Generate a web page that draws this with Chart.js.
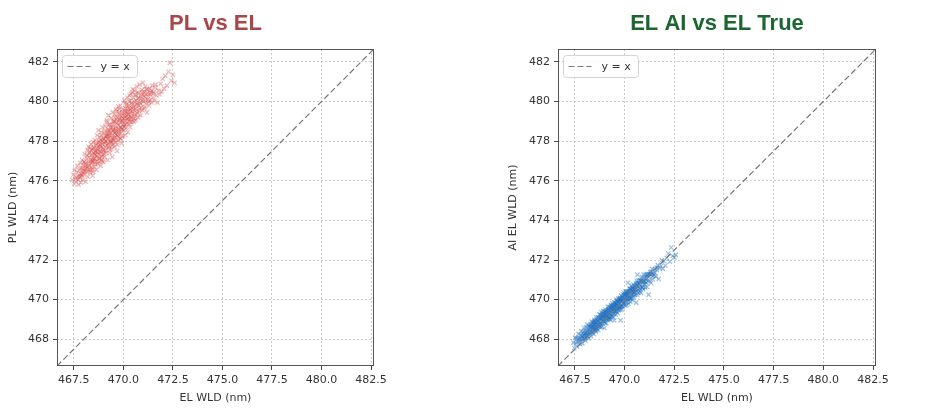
<!DOCTYPE html>
<html>
<head>
<meta charset="utf-8">
<script src="https://cdn.jsdelivr.net/npm/chart.js@4.4.0/dist/chart.umd.min.js"></script>
<style>
  body { margin: 0; background: #fff; width: 936px; height: 412px; overflow: hidden; position: relative; }
  canvas { position: absolute; top: 0; }
  #plChart { left: 0; }
  #aiChart { left: 500px; }
</style>
</head>
<body>
<canvas id="plChart" width="400" height="412"></canvas>
<canvas id="aiChart" width="400" height="412"></canvas>
<script>
// EL WLD (true), shared x values of both panels
const elWld = [
  467.42, 467.47, 467.51, 467.55, 467.58, 467.62, 467.65, 467.68, 467.71, 467.74,
  467.77, 467.79, 467.82, 467.84, 467.86, 467.88, 467.90, 467.92, 467.94, 467.96, 467.98, 467.99,
  468.01, 468.03, 468.05, 468.07, 468.09, 468.11, 468.13, 468.15, 468.17, 468.19, 468.21, 468.22, 468.24, 468.25,
  468.27, 468.29, 468.31, 468.33, 468.35, 468.37, 468.39, 468.41, 468.42, 468.44, 468.45, 468.46, 468.47, 468.48, 468.49,
  468.51, 468.52, 468.54, 468.55, 468.57, 468.58, 468.60, 468.62, 468.63, 468.65, 468.67, 468.68, 468.70, 468.71, 468.73, 468.74,
  468.76, 468.77, 468.78, 468.80, 468.81, 468.83, 468.84, 468.85, 468.87, 468.88, 468.90, 468.91, 468.92, 468.94, 468.95, 468.96, 468.98, 468.99,
  469.01, 469.02, 469.04, 469.05, 469.07, 469.08, 469.10, 469.11, 469.13, 469.14, 469.16, 469.17, 469.19, 469.20, 469.21, 469.22, 469.24, 469.25,
  469.26, 469.28, 469.29, 469.31, 469.32, 469.34, 469.35, 469.37, 469.38, 469.40, 469.41, 469.43, 469.44, 469.45, 469.46, 469.47, 469.48, 469.49,
  469.51, 469.52, 469.54, 469.55, 469.57, 469.58, 469.59, 469.61, 469.62, 469.63, 469.65, 469.66, 469.68, 469.69, 469.70, 469.72, 469.73, 469.74,
  469.76, 469.77, 469.79, 469.80, 469.81, 469.83, 469.84, 469.85, 469.87, 469.88, 469.90, 469.91, 469.93, 469.94, 469.95, 469.97, 469.99,
  470.01, 470.02, 470.04, 470.05, 470.07, 470.08, 470.10, 470.11, 470.13, 470.14, 470.16, 470.17, 470.19, 470.20, 470.22, 470.23, 470.24,
  470.26, 470.28, 470.29, 470.31, 470.32, 470.34, 470.35, 470.37, 470.38, 470.40, 470.41, 470.43, 470.44, 470.46, 470.47, 470.49,
  470.51, 470.53, 470.55, 470.57, 470.59, 470.61, 470.62, 470.64, 470.65, 470.67, 470.69, 470.70, 470.72, 470.74,
  470.76, 470.78, 470.80, 470.82, 470.84, 470.86, 470.88, 470.90, 470.92, 470.94, 470.96, 470.98,
  471.01, 471.04, 471.06, 471.09, 471.11, 471.14, 471.16, 471.19, 471.21, 471.24,
  471.27, 471.30, 471.33, 471.36, 471.39, 471.42, 471.45, 471.48,
  471.52, 471.57, 471.62, 471.67, 471.72, 471.77,
  471.83, 471.88, 471.93, 471.98, 472.05,
  472.12, 472.20, 472.28, 472.35, 472.42, 472.50, 472.58,
  468.135, 469.872, 470.418, 468.627, 469.314, 467.823, 470.905, 469.058, 468.382, 469.652,
  470.137, 468.914, 471.218, 469.447, 468.051, 470.562, 469.763, 468.748, 470.289, 469.186,
  467.612, 470.731, 468.493, 469.539, 471.083, 468.276, 469.948, 470.034, 468.852, 469.381,
  470.476, 468.596, 469.713, 470.821, 469.102, 468.173, 470.196, 469.604, 471.347, 468.712,
  469.835, 470.355, 468.438, 469.251, 470.649, 467.954, 469.478, 470.987, 468.965, 470.072,
  469.693, 468.331, 470.513, 469.127, 471.164, 468.809, 469.905, 470.247, 468.557, 469.571,
  467.887, 470.693, 469.024, 468.668, 470.114, 469.358, 471.042, 468.244, 469.798, 470.392,
  468.887, 469.214, 470.598, 468.469, 469.623, 471.412, 468.035, 469.987, 470.766, 469.409,
  468.774, 470.168, 469.153, 468.524, 470.318, 469.741, 471.285, 468.392, 469.516, 470.874,
  469.072, 468.941, 470.442, 469.278, 467.721, 470.055, 469.861, 468.586, 470.612, 469.335,
  471.528, 468.693, 470.227, 469.589, 468.118, 470.958, 469.782, 468.836, 470.374, 469.206,
  471.622, 468.312, 469.928, 470.537, 469.441, 468.991, 471.118, 469.663, 470.095, 468.425
];

// PL WLD for the same samples
const plWld = [
  476.05, 476.30, 475.85, 476.55, 476.10, 475.95, 476.40, 476.75, 476.20, 475.80,
  476.55, 476.15, 476.90, 476.35, 475.90, 476.65, 476.25, 477.05, 476.50, 476.05, 476.80, 476.40,
  476.95, 476.30, 477.35, 476.60, 475.95, 476.85, 477.15, 476.45, 477.55, 476.70, 476.20, 477.00, 477.70, 476.55,
  477.20, 476.75, 477.45, 476.40, 477.05, 477.85, 476.90, 477.30, 476.60, 477.60, 476.25, 477.15, 476.95, 477.95, 477.40,
  477.10, 477.65, 476.70, 477.35, 478.05, 476.95, 477.50, 477.80, 476.55, 477.25, 478.30, 477.00, 477.55, 476.85, 477.75, 478.55,
  477.35, 477.95, 476.95, 477.60, 478.20, 477.15, 477.80, 476.75, 477.45, 478.45, 477.70, 477.05, 478.00, 477.30, 478.70, 477.85, 477.50, 476.95,
  478.10, 477.55, 478.40, 477.20, 477.90, 478.75, 477.70, 478.20, 477.40, 478.00, 479.05, 477.80, 478.35, 477.05, 478.10, 478.60, 477.65, 479.30,
  478.25, 477.75, 478.55, 477.40, 478.85, 478.05, 477.95, 478.40, 479.15, 477.60, 478.30, 478.70, 477.20, 478.15, 479.45, 478.50, 477.85, 478.95,
  478.60, 478.05, 479.00, 477.70, 478.40, 479.35, 478.20, 478.75, 477.95, 479.60, 478.50, 478.90, 477.50, 478.30, 479.20, 478.65, 478.05, 479.75,
  478.80, 478.35, 479.10, 478.55, 479.45, 478.15, 478.95, 479.80, 478.70, 478.40, 479.25, 477.90, 479.00, 479.60, 478.60, 478.25, 479.15,
  479.00, 478.55, 479.40, 480.05, 478.80, 479.20, 478.30, 479.65, 479.05, 478.65, 479.85, 479.30, 478.90, 480.20, 479.50, 478.45, 479.15,
  479.35, 478.85, 479.80, 480.30, 479.10, 478.70, 479.55, 480.05, 479.25, 478.95, 479.70, 480.45, 479.40, 479.00, 479.85, 480.20,
  479.60, 479.15, 480.00, 480.55, 479.35, 479.80, 479.05, 480.30, 479.55, 480.75, 479.40, 479.95, 480.15, 479.20,
  479.80, 480.40, 479.50, 480.85, 479.95, 479.30, 480.25, 479.70, 480.60, 480.05, 479.55, 480.35,
  480.00, 480.50, 479.65, 480.20, 480.75, 479.90, 480.35, 479.45, 480.60, 480.10,
  480.25, 479.80, 480.65, 480.05, 480.45, 479.95, 480.80, 480.20,
  480.40, 480.05, 480.70, 480.30, 479.95, 480.55,
  480.35, 480.90, 480.50, 481.15, 480.65,
  481.30, 480.80, 481.50, 481.95, 481.05, 481.35, 480.95,
  476.62, 478.12, 479.92, 477.88, 477.58, 476.22, 480.15, 478.52, 476.68, 479.08,
  479.48, 477.22, 480.42, 478.82, 476.48, 479.25, 478.48, 477.12, 480.02, 478.25,
  476.18, 480.48, 477.68, 478.15, 479.72, 477.38, 479.42, 478.72, 478.05, 477.95,
  480.62, 476.82, 478.95, 479.62, 477.52, 477.28, 479.12, 478.62, 480.38, 477.42,
  479.18, 479.62, 477.02, 478.82, 480.05, 476.62, 478.55, 480.95, 477.65, 479.55,
  477.82, 476.52, 479.72, 478.28, 480.62, 477.78, 478.58, 479.35, 477.32, 479.22,
  476.32, 479.85, 477.35, 477.62, 478.85, 478.68, 480.28, 476.88, 479.62, 479.18,
  478.30, 477.88, 480.35, 476.45, 478.35, 480.55, 476.95, 478.82, 480.18, 478.02,
  477.98, 479.78, 478.95, 477.12, 478.98, 478.22, 479.98, 477.55, 479.02, 479.88,
  477.98, 476.98, 479.48, 478.48, 476.05, 479.28, 478.72, 477.45, 479.62, 478.28,
  480.48, 477.18, 479.62, 478.45, 476.75, 480.45, 479.35, 477.48, 480.38, 478.45,
  480.85, 477.65, 479.02, 478.98, 477.78, 478.15, 480.05, 479.52, 479.95, 476.95
];

// AI-predicted EL WLD for the same samples
const aiElWld = [
  467.83, 467.56, 468.07, 467.81, 468.07, 467.63, 468.01, 468.27, 467.87, 468.07,
  467.75, 468.20, 468.40, 468.00, 468.17, 467.79, 468.38, 468.00, 468.28, 468.58, 468.18, 468.01,
  468.44, 467.94, 468.33, 468.60, 468.17, 468.32, 468.74, 468.13, 468.52, 468.04, 468.68, 468.37, 468.63, 468.28,
  468.35, 468.77, 468.16, 468.61, 468.89, 468.37, 468.61, 468.33, 468.84, 468.76, 468.25, 468.96, 468.62, 468.86, 468.53,
  468.94, 468.51, 468.75, 468.39, 469.10, 468.85, 468.53, 468.95, 468.72, 469.12, 468.46, 468.91, 469.09, 468.74, 468.62, 469.25,
  468.85, 469.23, 468.62, 469.08, 468.77, 469.37, 469.00, 468.63, 469.25, 468.92, 469.12, 468.79, 469.41, 468.93, 469.27, 469.08, 468.57, 469.41,
  469.29, 468.84, 469.20, 469.49, 469.03, 468.80, 469.44, 469.17, 469.35, 469.02, 469.64, 468.97, 469.31, 469.50, 469.15, 469.62, 469.26, 469.01,
  469.13, 469.61, 469.00, 469.48, 469.71, 469.29, 469.46, 469.16, 469.81, 469.41, 469.64, 469.10, 469.73, 469.34, 469.61, 469.84, 468.95, 469.54,
  469.85, 469.40, 469.66, 469.25, 469.81, 470.00, 469.39, 469.67, 469.56, 469.93, 469.31, 469.84, 470.06, 469.67, 469.46, 469.94, 469.63, 469.84,
  469.65, 470.06, 469.48, 468.96, 469.98, 470.20, 469.65, 469.92, 469.50, 470.11, 470.01, 469.66, 470.26, 469.91, 470.36, 469.82, 470.12,
  470.23, 469.70, 470.06, 470.41, 469.87, 470.18, 469.72, 470.29, 470.05, 470.42, 469.90, 470.85, 470.25, 469.78, 470.36, 470.09, 470.56,
  470.05, 470.55, 469.90, 470.34, 470.53, 470.07, 470.70, 470.24, 470.47, 469.97, 470.56, 470.36, 470.75, 470.15, 470.48, 470.66,
  470.70, 470.24, 470.52, 470.82, 469.85, 470.42, 470.73, 470.23, 471.26, 470.70, 470.34, 470.97, 470.59, 470.83,
  470.42, 470.96, 470.72, 470.34, 470.94, 470.64, 471.14, 470.60, 470.90, 470.52, 471.26, 470.88,
  471.09, 470.62, 471.26, 470.85, 471.09, 470.64, 471.30, 470.93, 470.25, 471.28,
  470.94, 471.39, 470.84, 471.27, 471.54, 471.03, 471.32, 471.23,
  471.55, 471.16, 471.51, 471.74, 471.04, 471.59,
  471.70, 471.98, 471.55, 471.95, 471.72,
  472.10, 472.33, 471.91, 472.63, 472.20, 472.13, 472.26,
  468.41, 470.02, 470.58, 468.55, 469.61, 467.94, 470.62, 469.06, 468.81, 469.52,
  470.30, 469.32, 471.14, 469.27, 468.07, 470.61, 470.05, 468.68, 470.07, 469.53,
  467.86, 470.78, 468.88, 469.73, 471.02, 468.39, 469.77, 470.26, 469.07, 469.17,
  470.36, 468.67, 469.98, 470.95, 469.33, 468.23, 470.41, 469.45, 471.42, 469.02,
  469.90, 470.12, 468.60, 469.42, 470.85, 468.21, 469.70, 470.78, 468.89, 469.98,
  469.88, 468.59, 470.38, 469.20, 471.25, 469.05, 470.15, 470.44, 468.45, 469.80,
  468.12, 470.48, 469.40, 468.90, 470.18, 469.55, 470.88, 468.55, 469.62, 470.64,
  469.15, 469.08, 470.72, 468.74, 469.94, 471.18, 468.30, 470.22, 470.55, 469.63,
  468.82, 470.02, 469.47, 468.77, 470.50, 469.58, 471.30, 468.52, 469.42, 471.05,
  469.25, 469.18, 470.28, 469.35, 468.01, 470.35, 469.70, 469.00, 470.95, 469.72,
  471.35, 468.74, 470.15, 469.68, 468.18, 470.92, 470.08, 469.20, 470.42, 469.05,
  471.62, 468.68, 469.84, 470.52, 469.48, 468.98, 471.20, 469.88, 470.40, 468.42
];

const axisLimits = [466.65, 482.65];
const xTicks = [467.5, 470, 472.5, 475, 477.5, 480, 482.5];
const yTicks = [468, 470, 472, 474, 476, 478, 480, 482];

const tickFont = { family: 'DejaVu Sans', size: 11 };
const textColor = '#333';

// frame round the plot + small legend box inside, like matplotlib
const frameLegend = {
  id: 'frameLegend',
  afterDatasetsDraw(chart) {
    const { ctx, chartArea: a } = chart;
    const ds = chart.data.datasets[0];
    ctx.save();
    ctx.strokeStyle = '#555';
    ctx.lineWidth = 1;
    ctx.strokeRect(a.left + 0.5, a.top + 0.5, a.width - 1, a.height - 1);

    const bx = a.left + 5.5, by = a.top + 6.5, bw = 75, bh = 22;
    ctx.fillStyle = 'rgba(255,255,255,0.8)';
    ctx.strokeStyle = '#d4d4d4';
    ctx.beginPath();
    if (ctx.roundRect) ctx.roundRect(bx, by, bw, bh, 3); else ctx.rect(bx, by, bw, bh);
    ctx.fill();
    ctx.stroke();

    ctx.strokeStyle = ds.borderColor;
    ctx.lineWidth = ds.borderWidth;
    ctx.setLineDash(ds.borderDash);
    ctx.beginPath();
    ctx.moveTo(bx + 5, by + bh / 2);
    ctx.lineTo(bx + 28, by + bh / 2);
    ctx.stroke();
    ctx.setLineDash([]);

    ctx.fillStyle = textColor;
    ctx.font = '11px "DejaVu Sans"';
    ctx.textBaseline = 'middle';
    ctx.fillText(ds.label, bx + 38, by + bh / 2 + 1);
    ctx.restore();
  }
};

function makeChart(id, cfg) {
  const diagonal = axisLimits.map(v => ({ x: v, y: v }));
  const points = elWld.map((x, i) => ({ x: x, y: cfg.values[i] }));

  return new Chart(document.getElementById(id), {
    type: 'scatter',
    data: {
      datasets: [
        {
          label: 'y = x',
          data: diagonal,
          showLine: true,
          borderColor: '#777',
          borderDash: [6, 3],
          borderWidth: 1.2,
          pointRadius: 0,
        },
        {
          label: cfg.title,
          data: points,
          pointStyle: 'crossRot',
          pointRadius: 3,
          borderWidth: 1.2,
          borderColor: cfg.color,
          backgroundColor: cfg.color,
        },
      ],
    },
    options: {
      responsive: false,
      animation: false,
      devicePixelRatio: 1,
      layout: { padding: { left: 0, right: cfg.rightPad, top: 0, bottom: 0 } },
      plugins: {
        legend: { display: false },
        tooltip: { enabled: false },
        title: {
          display: true,
          text: cfg.title,
          color: cfg.titleColor,
          fullSize: false,
          font: { family: 'Liberation Sans', size: 22, weight: 'bold' },
          padding: { top: 10.8, bottom: 11.8 },
        },
      },
      scales: {
        x: {
          type: 'linear',
          min: axisLimits[0],
          max: axisLimits[1],
          afterBuildTicks: s => { s.ticks = xTicks.map(v => ({ value: v })); },
          afterFit: s => { s.height = 46; },
          ticks: { font: tickFont, color: textColor, padding: 4, maxRotation: 0, callback: v => v.toFixed(1) },
          grid: { color: '#cacaca', tickLength: 4, tickColor: '#444' },
          border: { display: false, dash: [2, 2] },
          title: { display: true, text: 'EL WLD (nm)', font: tickFont, color: textColor, padding: { top: 0, bottom: 7.4 } },
        },
        y: {
          type: 'linear',
          min: axisLimits[0],
          max: axisLimits[1],
          afterBuildTicks: s => { s.ticks = yTicks.map(v => ({ value: v })); },
          afterFit: s => { s.width = cfg.axisWidth; },
          ticks: { font: tickFont, color: textColor, padding: 4, callback: v => String(v) },
          grid: { color: '#cacaca', tickLength: 4, tickColor: '#444' },
          border: { display: false, dash: [2, 2] },
          title: { display: true, text: cfg.yLabel, font: tickFont, color: textColor, padding: { top: 6.4, bottom: 0 } },
        },
      },
    },
    plugins: [frameLegend],
  });
}

makeChart('plChart', {
  title: 'PL vs EL',
  titleColor: '#a8474a',
  yLabel: 'PL WLD (nm)',
  values: plWld,
  color: 'rgba(214, 60, 60, 0.38)',
  axisWidth: 57,
  rightPad: 26,
});

makeChart('aiChart', {
  title: 'EL AI vs EL True',
  titleColor: '#1b6631',
  yLabel: 'AI EL WLD (nm)',
  values: aiElWld,
  color: 'rgba(31, 110, 190, 0.45)',
  axisWidth: 58,
  rightPad: 24,
});
</script>
</body>
</html>
